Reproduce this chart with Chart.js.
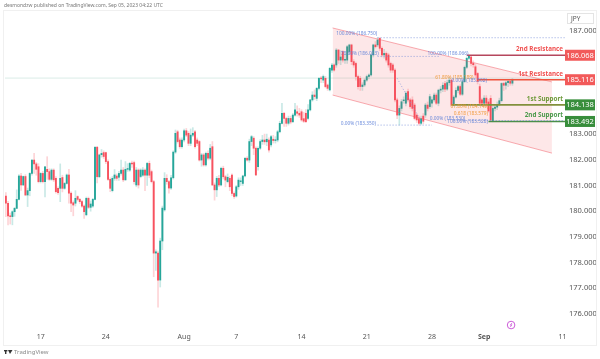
<!DOCTYPE html>
<html>
<head>
<meta charset="utf-8">
<title>JPY chart</title>
<script src="https://cdn.jsdelivr.net/npm/chart.js@4"></script>
<style>
  html, body { margin: 0; padding: 0; background: #fff; }
  canvas { display: block; }
</style>
</head>
<body>
<canvas id="chart" width="600" height="359"></canvas>
<script>
// 4h candles, weekends are skipped so x is the bar number
var opens = [
  180.59,180.31,179.82,179.79,179.98,180.11,180.46,181.37,181.02,181.35,
  180.63,180.80,181.47,181.99,181.84,181.73,181.15,181.47,181.15,181.63,
  181.54,181.24,181.60,181.28,180.89,180.89,181.31,180.89,181.08,181.41,
  180.70,180.33,180.31,180.57,180.46,180.37,180.20,179.86,180.50,180.15,
  180.20,180.46,182.49,181.34,182.20,182.28,182.28,181.93,181.24,180.80,
  181.28,181.37,181.32,181.47,181.60,181.22,181.63,181.60,181.86,181.89,
  181.02,181.60,181.35,181.40,181.60,181.40,181.86,181.54,181.15,178.37,
  178.37,177.32,178.84,180.05,181.28,181.15,180.90,181.30,182.30,183.09,
  182.77,182.51,182.77,183.13,183.03,182.64,182.96,183.09,182.77,182.71,
  181.99,182.19,181.80,182.25,182.06,182.51,181.02,180.83,181.28,181.02,
  181.67,181.34,181.15,181.28,181.41,180.69,180.59,180.95,181.15,181.08,
  181.37,182.06,181.99,182.71,182.84,182.45,181.73,182.45,182.71,182.77,
  182.70,182.77,182.58,182.80,182.75,182.77,183.09,183.42,183.81,183.61,
  183.42,183.61,183.48,183.74,183.87,183.81,183.87,183.60,183.81,183.61,
  183.94,184.33,184.52,184.39,184.78,185.17,185.10,185.17,184.91,184.72,
  185.49,185.69,185.69,186.27,185.88,186.21,185.88,185.88,186.21,186.47,
  185.82,185.75,185.24,185.17,184.85,184.91,185.10,185.24,185.30,186.08,
  186.47,186.47,186.73,186.34,186.08,186.14,186.08,185.75,185.69,185.49,
  184.33,183.74,184.00,184.30,184.20,184.65,184.33,184.33,184.13,183.74,
  183.60,183.42,183.70,183.74,184.13,184.07,184.20,184.33,184.52,184.20,
  184.71,184.75,184.97,184.75,185.00,185.10,184.13,184.44,184.70,184.85,
  184.55,185.04,185.60,185.95,186.00,185.75,185.62,185.36,184.85,184.33,
  184.20,184.40,184.25,184.39,183.50,184.00,184.05,184.15,184.30,184.97,
  184.90,185.00,185.05,184.98
];
var highs = [
  180.72,180.38,179.93,180.02,180.15,180.83,181.42,181.47,181.37,181.42,
  180.90,181.50,182.00,182.25,181.90,181.85,181.50,181.55,181.75,182.12,
  181.65,181.65,181.65,181.35,180.95,181.84,181.40,181.12,181.45,181.63,
  180.75,180.40,180.80,180.60,180.50,180.42,180.25,180.55,180.55,180.40,
  180.50,182.52,182.52,182.22,182.40,182.35,182.30,182.00,181.30,181.35,
  181.62,181.45,181.55,181.99,181.70,181.93,181.85,181.90,181.95,181.95,
  181.70,181.65,181.65,181.70,181.65,181.90,181.95,181.60,181.20,178.50,
  178.45,178.95,180.20,181.50,181.42,181.20,181.40,182.35,183.16,183.15,
  182.85,182.85,183.20,183.22,183.10,183.20,183.25,183.15,182.85,182.75,
  182.25,182.25,182.30,182.35,182.60,182.71,181.10,181.35,181.40,181.72,
  181.75,181.40,181.45,181.35,181.45,180.75,181.00,181.30,181.30,181.40,
  182.10,182.12,182.80,182.95,182.90,182.50,182.50,182.78,182.95,183.00,
  183.00,182.85,182.95,182.95,182.90,183.15,183.50,184.20,183.85,183.66,
  183.70,183.70,183.80,184.20,184.10,184.00,183.95,183.85,183.95,184.15,
  184.35,184.65,184.72,184.82,185.20,185.25,185.30,185.25,184.95,185.60,
  185.75,185.73,186.33,186.30,186.25,186.25,186.10,186.45,186.50,186.50,
  185.90,185.80,185.30,185.25,185.00,185.15,185.30,185.35,186.12,186.50,
  186.60,186.75,186.75,186.40,186.30,186.20,186.15,185.80,185.75,185.55,
  184.40,184.10,184.35,184.45,184.65,184.75,184.40,184.45,184.20,183.80,
  183.70,183.70,183.80,184.20,184.25,184.55,184.45,184.60,184.60,184.75,
  184.85,185.00,185.05,185.10,185.20,185.12,184.50,184.80,184.90,184.92,
  185.10,185.65,186.00,186.07,186.05,185.85,185.70,185.40,184.95,184.40,
  184.50,184.50,184.35,184.50,184.10,184.15,184.25,184.40,185.00,185.02,
  185.05,185.10,185.12,185.16
];
var lows = [
  179.79,179.47,179.50,179.47,179.80,180.10,180.44,180.81,181.00,180.60,
  180.18,180.60,181.40,181.47,181.40,181.10,181.10,181.10,180.56,181.24,
  181.20,181.20,181.15,180.70,180.65,180.37,180.75,180.85,181.05,180.31,
  179.98,179.82,180.20,180.40,180.30,180.15,179.72,179.82,180.10,180.00,
  180.15,180.44,181.10,181.30,182.10,182.05,181.85,181.20,180.76,180.75,
  181.20,181.20,181.20,181.40,181.15,181.20,181.55,181.55,181.70,181.05,
  180.95,180.90,181.30,181.35,180.80,181.00,181.30,181.10,177.45,177.70,
  176.27,177.05,178.50,180.00,181.05,180.70,180.85,181.25,182.25,182.65,
  182.45,182.45,182.70,182.90,182.55,182.55,182.90,182.45,182.55,181.95,
  181.75,181.75,181.75,182.00,182.00,181.00,180.43,180.57,180.95,180.98,
  181.25,180.95,181.10,180.80,180.60,180.50,180.55,180.85,181.00,181.00,
  181.33,181.95,181.90,182.55,182.20,181.38,181.60,182.40,182.60,182.60,
  182.55,182.30,182.50,182.65,182.65,182.70,183.05,183.40,183.30,183.30,
  183.35,183.40,183.45,183.70,183.70,183.65,183.50,183.45,183.45,183.55,
  183.90,184.28,184.35,184.30,184.72,185.00,185.00,184.80,184.70,184.68,
  185.40,185.45,185.60,185.75,185.70,185.80,185.75,185.75,186.10,185.70,
  185.60,185.10,184.75,184.70,184.70,184.85,185.05,185.15,185.25,186.00,
  186.35,186.40,186.25,186.00,185.95,185.80,185.60,185.40,185.40,184.25,
  183.60,183.35,183.90,184.20,184.10,184.25,184.00,183.90,183.55,183.45,
  183.35,183.36,183.40,183.65,183.90,184.00,184.05,184.25,184.15,184.10,
  184.60,184.65,184.65,184.70,184.90,184.10,184.10,184.40,184.60,184.50,
  184.50,185.00,185.55,185.90,185.65,185.60,185.20,184.95,184.10,184.10,
  184.10,184.10,183.85,183.49,183.48,183.90,183.95,184.10,184.25,184.70,
  184.75,184.85,184.90,184.90
];
var closes = [
  180.31,179.82,179.79,179.98,180.11,180.46,181.37,181.02,181.35,180.63,
  180.80,181.47,181.99,181.84,181.63,181.15,181.47,181.15,181.73,181.54,
  181.24,181.60,181.22,180.76,180.72,181.28,180.89,181.08,181.41,180.70,
  180.31,180.24,180.50,180.46,180.37,180.20,179.98,180.50,180.15,180.28,
  180.46,182.49,181.34,182.19,182.25,182.13,181.93,181.24,180.89,181.28,
  181.41,181.28,181.47,181.60,181.22,181.63,181.65,181.86,181.84,181.15,
  181.60,181.02,181.60,181.60,181.40,181.86,181.40,181.15,178.37,178.42,
  177.32,178.84,180.12,181.28,181.15,180.90,181.30,182.30,183.03,182.71,
  182.51,182.77,183.13,182.96,182.64,182.96,183.03,182.51,182.64,181.99,
  182.19,181.80,182.25,182.06,182.45,181.02,180.83,181.28,181.02,181.67,
  181.34,181.21,181.32,180.95,180.69,180.57,180.95,181.21,181.18,181.37,
  182.06,181.99,182.71,182.90,182.45,181.41,182.45,182.71,182.77,182.70,
  182.80,182.38,182.90,182.75,182.77,183.09,183.42,183.81,183.61,183.42,
  183.61,183.47,183.74,183.94,183.81,183.74,183.55,183.50,183.48,183.94,
  184.33,184.52,184.46,184.78,185.17,185.15,185.24,184.85,184.78,185.56,
  185.69,185.49,186.27,185.88,186.00,185.88,185.90,186.40,186.47,185.82,
  185.69,185.24,184.85,184.85,184.91,185.10,185.24,185.30,186.08,186.47,
  186.40,186.66,186.34,186.08,186.14,185.88,185.69,185.49,185.49,184.33,
  183.74,184.00,184.26,184.33,184.59,184.33,184.07,184.00,183.61,183.55,
  183.42,183.60,183.50,184.13,184.00,184.46,184.33,184.52,184.20,184.71,
  184.75,184.90,184.75,185.00,185.10,184.13,184.44,184.70,184.85,184.55,
  185.04,185.60,185.95,186.05,185.75,185.70,185.30,185.05,184.20,184.20,
  184.40,184.20,183.90,183.55,184.00,184.05,184.15,184.30,184.97,184.90,
  185.00,185.05,184.98,185.12
];

// axis labels
var timeTickBars = [16, 46, 82, 106, 136, 166, 196, 220, 256];
var timeTickLabels = ['17', '24', 'Aug', '7', '14', '21', '28', 'Sep', '11'];
var priceTicks = [187, 183, 182, 181, 180, 179, 178, 177, 176];

// drawn levels
var levelPrices = [186.068, 185.116, 184.138, 183.492];
var levelNames = ['2nd Resistance', '1st Resistance', '1st Support', '2nd Support'];
var levelStartBars = [212, 217, 205, 222];
var lastPrice = 185.18;

// parallel channel, [bar, price]
var channelBars = [150.3, 251.2];
var channelUpper = [187.13, 185.03];
var channelLower = [184.52, 182.26];

// fibonacci levels and labels
var fibPrices = [186.75, 186.023, 183.35, 183.528];
var fibStartBars = [171, 171, 171, 206];
var fibEndBars = [257, 200, 196, 257];
var fibSwingBars = [180, 191];
var fibSwingPrices = [185.17, 183.5];
var fibTexts = ['100.00% (186.750)', '78.60% (186.023)', '0.00% (183.350)', '100.00% (186.066)',
  '61.80% (185.189)', '0.00% (185.502)', '61.80% (184.149)', '0.618 (183.579)', '0.00% (183.530)', '100.00% (183.528)'];
var fibTextBars = [152, 154, 154, 194, 197.5, 205, 204.5, 206, 195, 203];
var fibTextPrices = [186.89, 186.13, 183.42, 186.13, 185.2, 185.07, 184.05, 183.78, 183.6, 183.47];
var fibTextKinds = ['b', 'b', 'b', 'b', 'o', 'b', 'o', 'o', 'b', 'b'];

var eventBar = 232.4;
var eventPrice = 175.57;

var UP = '#26a69a', DOWN = '#f7525f';

var wicks = [], bodies = [], bodyColors = [], wickColors = [];
closes.forEach(function(c, i){
  var up = c >= opens[i];
  wicks.push({ x: i, y: [lows[i], highs[i]] });
  bodies.push({ x: i, y: [opens[i], c] });
  bodyColors.push(up ? UP : DOWN);
  wickColors.push(up ? 'rgba(38,166,154,0.25)' : 'rgba(247,82,95,0.25)');
});

function hLine(bar0, bar1, price, color, width, dash, order){
  return {
    type: 'line',
    data: [{ x: bar0, y: price }, { x: bar1, y: price }],
    borderColor: color, borderWidth: width, borderDash: dash || [],
    pointRadius: 0, order: order
  };
}

var datasets = [
  { type: 'bar', data: wicks, backgroundColor: wickColors, barThickness: 1, grouped: false, order: 6 },
  { type: 'bar', data: bodies, backgroundColor: bodyColors, barThickness: 1.25, minBarLength: 0.8, grouped: false, order: 5 },
  // channel, second line fills back to the first
  { type: 'line', data: channelBars.map(function(b, i){ return { x: b, y: channelUpper[i] }; }),
    borderColor: 'rgba(242,90,100,0.5)', borderWidth: 1, pointRadius: 0, fill: false, order: 4 },
  { type: 'line', data: channelBars.map(function(b, i){ return { x: b, y: channelLower[i] }; }),
    borderColor: 'rgba(242,90,100,0.5)', borderWidth: 1, pointRadius: 0,
    fill: '-1', backgroundColor: 'rgba(242,54,69,0.12)', order: 4 },
  hLine(-0.4, 257.2, lastPrice, 'rgba(150,200,185,0.35)', 1, null, 7),
  // fib swing
  { type: 'line', data: fibSwingBars.map(function(b, i){ return { x: b, y: fibSwingPrices[i] }; }),
    borderColor: 'rgba(120,140,220,0.7)', borderWidth: 1, borderDash: [1, 2], pointRadius: 0, order: 3 },
  { type: 'line', data: [{ x: eventBar, y: eventPrice }], showLine: false, pointRadius: 3.8,
    pointBackgroundColor: '#fff', pointBorderColor: '#cc5bd8', pointBorderWidth: 1, order: 0 }
];
fibPrices.forEach(function(p, i){
  datasets.push(hLine(fibStartBars[i], fibEndBars[i], p, 'rgba(110,135,215,0.75)', 1, [1, 2], 2));
});
var levelColors = ['#b5475d', '#f0533d', '#82903c', '#4c8f4a'];
levelPrices.forEach(function(p, i){
  datasets.push(hLine(levelStartBars[i], 257.2, p, levelColors[i], 1.6, null, 3));
});

var overlay = {
  id: 'overlay',
  afterDraw: function(chart){
    var ctx = chart.ctx, xs = chart.scales.x, ys = chart.scales.y, i;
    ctx.save();

    // frame
    ctx.strokeStyle = '#f0f0f0';
    ctx.lineWidth = 1;
    ctx.strokeRect(3.5, 10.5, 593, 335);

    // header and footer
    ctx.textBaseline = 'middle';
    ctx.textAlign = 'left';
    ctx.font = '5px "Noto Sans"';
    ctx.fillStyle = '#777';
    ctx.fillText('desmondzw published on TradingView.com, Sep 05, 2023 04:22 UTC', 4, 6);
    ctx.font = '6px "Noto Sans"';
    ctx.fillStyle = '#8a8a8a';
    ctx.fillText('TradingView', 14, 352);
    ctx.fillStyle = '#333';
    ctx.fillRect(4, 350, 3.4, 1.4);
    ctx.fillRect(5, 350, 1.4, 4);
    ctx.beginPath();
    ctx.moveTo(8, 350); ctx.lineTo(12.5, 350); ctx.lineTo(10, 354); ctx.closePath();
    ctx.fill();

    // fib labels
    ctx.font = '4.8px "Noto Sans"';
    for (i = 0; i < fibTexts.length; i++) {
      ctx.fillStyle = fibTextKinds[i] === 'o' ? 'rgba(240,150,50,0.95)' : 'rgba(90,125,215,0.9)';
      ctx.fillText(fibTexts[i], xs.getPixelForValue(fibTextBars[i]), ys.getPixelForValue(fibTextPrices[i]));
    }

    // level names and price boxes
    var boxColors = ['#f25a5a', '#f25a5a', '#388e3c', '#388e3c'];
    var nameColors = ['#f05050', '#f05050', '#6f9a3a', '#4c9a4c'];
    for (i = 0; i < levelPrices.length; i++) {
      var y = ys.getPixelForValue(levelPrices[i]);
      ctx.font = 'bold 6.3px "Noto Sans"';
      ctx.textAlign = 'right';
      ctx.fillStyle = nameColors[i];
      ctx.fillText(levelNames[i], 563, y - 6);
      ctx.fillStyle = boxColors[i];
      ctx.fillRect(565, y - 5.5, 30, 11);
      ctx.font = '7.5px "Noto Sans"';
      ctx.textAlign = 'center';
      ctx.fillStyle = '#fff';
      ctx.fillText(levelPrices[i].toFixed(3), 580, y + 0.5);
    }

    // currency label
    ctx.strokeStyle = '#e4e4e4';
    ctx.strokeRect(567.5, 13.5, 26, 10);
    ctx.font = '6.5px "Noto Sans"';
    ctx.textAlign = 'left';
    ctx.fillStyle = '#555';
    ctx.fillText('JPY', 571, 19);

    // bolt inside the event marker
    var ex = xs.getPixelForValue(eventBar), ey = ys.getPixelForValue(eventPrice);
    ctx.strokeStyle = '#cc5bd8';
    ctx.lineWidth = 0.8;
    ctx.beginPath();
    ctx.moveTo(ex + 0.8, ey - 2); ctx.lineTo(ex - 0.8, ey + 0.2);
    ctx.lineTo(ex + 0.8, ey - 0.2); ctx.lineTo(ex - 0.8, ey + 2);
    ctx.stroke();
    ctx.restore();
  }
};

new Chart(document.getElementById('chart'), {
  type: 'bar',
  data: { datasets: datasets },
  options: {
    responsive: false,
    animation: false,
    events: [],
    layout: { padding: { left: 3.5, top: 10, right: 0, bottom: 0 } },
    plugins: { legend: { display: false }, tooltip: { enabled: false } },
    scales: {
      x: {
        type: 'linear', offset: false, min: -0.4, max: 257.2,
        grid: { display: false, drawTicks: false, tickLength: 0 }, border: { display: false },
        afterBuildTicks: function(scale){
          scale.ticks = timeTickBars.map(function(v){ return { value: v }; });
        },
        afterFit: function(scale){ scale.height = 29; },
        ticks: {
          autoSkip: false, maxRotation: 0, padding: 3, color: '#555',
          font: function(ctx){
            var bold = ctx.tick && timeTickLabels[timeTickBars.indexOf(ctx.tick.value)] === 'Sep';
            return { family: '"Noto Sans"', size: 7, weight: bold ? 'bold' : 'normal' };
          },
          callback: function(v){ return timeTickLabels[timeTickBars.indexOf(v)]; }
        }
      },
      y: {
        type: 'linear', position: 'right', min: 175.377, max: 187.829,
        grid: { display: false, drawTicks: false, tickLength: 0 }, border: { display: false },
        afterBuildTicks: function(scale){
          scale.ticks = priceTicks.map(function(v){ return { value: v }; });
        },
        afterFit: function(scale){ scale.width = 35; },
        ticks: {
          padding: 4, color: '#555', font: { family: '"Noto Sans"', size: 7.5 },
          callback: function(v){ return v.toFixed(3); }
        }
      }
    }
  },
  plugins: [overlay]
});
</script>
</body>
</html>
